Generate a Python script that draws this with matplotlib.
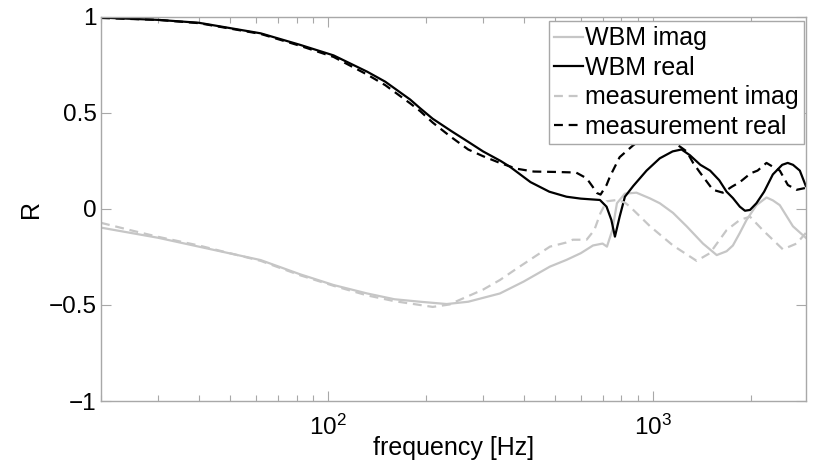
import matplotlib
matplotlib.use("Agg")
import matplotlib.pyplot as plt
from matplotlib.ticker import LogLocator, FixedLocator, NullFormatter

plt.rcParams['font.family'] = ['Liberation Sans', 'DejaVu Sans']
plt.rcParams['mathtext.fontset'] = 'custom'
plt.rcParams['mathtext.rm'] = 'Liberation Sans'
plt.rcParams['mathtext.it'] = 'Liberation Sans:italic'

# ---- data ----
wbm_real_f = [20, 30, 40, 62, 82, 104, 132, 150, 179, 192, 210, 240, 270, 300, 340, 363,
              420, 480, 542, 600, 687, 720, 745, 764, 790, 820, 870, 956, 1050, 1150,
              1225, 1300, 1400, 1500, 1600, 1686, 1763, 1852, 1920, 1990, 2083, 2200,
              2340, 2500, 2600, 2700, 2833, 2956]
wbm_real_v = [0.997, 0.985, 0.97, 0.915, 0.855, 0.80, 0.715, 0.663, 0.57, 0.525, 0.47,
              0.405, 0.35, 0.30, 0.25, 0.22, 0.14, 0.09, 0.064, 0.054, 0.047, 0.012,
              -0.057, -0.144, -0.04, 0.064, 0.12, 0.20, 0.264, 0.30, 0.31, 0.28, 0.23,
              0.20, 0.15, 0.09, 0.057, 0.012, -0.009, -0.005, 0.03, 0.09, 0.18, 0.23,
              0.24, 0.23, 0.20, 0.12]

meas_real_f = [20, 30, 40, 62, 82, 104, 132, 150, 179, 192, 210, 237, 270, 300, 338, 380,
               430, 500, 580, 625, 650, 673, 690, 720, 738, 790, 867, 950, 1020, 1100,
               1200, 1270, 1330, 1396, 1530, 1642, 1750, 1852, 2000, 2100, 2237, 2340,
               2458, 2603, 2769, 2956]
meas_real_v = [0.995, 0.985, 0.968, 0.912, 0.85, 0.792, 0.70, 0.645, 0.55, 0.51, 0.45,
               0.38, 0.31, 0.275, 0.24, 0.21, 0.195, 0.193, 0.19, 0.16, 0.12, 0.083,
               0.075, 0.125, 0.17, 0.27, 0.33, 0.38, 0.40, 0.37, 0.33, 0.30, 0.24, 0.19,
               0.10, 0.085, 0.116, 0.14, 0.186, 0.20, 0.24, 0.22, 0.20, 0.125, 0.10, 0.11]

wbm_imag_f = [20, 30, 40, 62, 82, 104, 132, 160, 192, 232, 270, 338, 400, 482, 542, 600,
              654, 700, 722, 750, 775, 820, 890, 980, 1050, 1153, 1270, 1426, 1572, 1686,
              1763, 1850, 1942, 2083, 2237, 2340, 2458, 2698, 2956]
wbm_imag_v = [-0.097, -0.15, -0.196, -0.266, -0.34, -0.396, -0.44, -0.47, -0.483, -0.495,
              -0.483, -0.44, -0.378, -0.30, -0.265, -0.23, -0.19, -0.18, -0.196, -0.11,
              0.03, 0.08, 0.085, 0.055, 0.03, -0.02, -0.09, -0.18, -0.24, -0.22, -0.19,
              -0.126, -0.057, 0.02, 0.06, 0.045, 0.02, -0.09, -0.15]

meas_imag_f = [20, 25, 30, 40, 62, 82, 104, 132, 160, 192, 210, 237, 249, 300, 338, 381,
               440, 482, 540, 567, 625, 660, 690, 720, 775, 820, 850, 980, 1153, 1363,
               1498, 1686, 1852, 1990, 2179, 2512, 2769, 2956]
meas_imag_v = [-0.072, -0.113, -0.145, -0.19, -0.27, -0.345, -0.40, -0.45, -0.48, -0.50,
               -0.51, -0.497, -0.48, -0.42, -0.37, -0.31, -0.24, -0.196, -0.175, -0.16,
               -0.16, -0.11, -0.02, 0.04, 0.047, 0.033, 0.012, -0.09, -0.19, -0.27, -0.23,
               -0.11, -0.057, -0.04, -0.11, -0.21, -0.18, -0.125]

y_ticks = [-1, -0.5, 0, 0.5, 1]
y_tick_labels = ['\u22121', '\u22120.5', '0', '0.5', '1']
legend_labels = ['WBM imag', 'WBM real', 'measurement imag', 'measurement real']

# ---- figure ----
fig = plt.figure(figsize=(8.13, 4.62), dpi=100)
ax = fig.add_axes([101 / 813, 1 - 401 / 462, 705 / 813, 384 / 462])

gray = '#c6c6c6'
lw = 1.6
dash = (0, (4, 2.6))
ax.plot(wbm_imag_f, wbm_imag_v, color=gray, lw=lw, label=legend_labels[0])
ax.plot(wbm_real_f, wbm_real_v, color='black', lw=lw, label=legend_labels[1])
ax.plot(meas_imag_f, meas_imag_v, color=gray, lw=lw, ls=dash, label=legend_labels[2])
ax.plot(meas_real_f, meas_real_v, color='black', lw=lw, ls=dash, label=legend_labels[3])

ax.set_xscale('log')
ax.set_xlim(20, 2960)
ax.set_ylim(-1, 1)
ax.yaxis.set_major_locator(FixedLocator(y_ticks))
ax.set_yticklabels(y_tick_labels)
ax.xaxis.set_major_locator(LogLocator(base=10, numticks=10))
ax.xaxis.set_minor_locator(LogLocator(base=10, subs=range(2, 10), numticks=20))
ax.xaxis.set_minor_formatter(NullFormatter())

spine_c = '#a8a8a8'
for s in ax.spines.values():
    s.set_color(spine_c)
    s.set_linewidth(1.0)
ax.tick_params(which='both', direction='in', top=True, right=True, color=spine_c,
               labelsize=17.5, labelcolor='black')
ax.tick_params(which='major', length=7, width=0.8)
ax.tick_params(axis='y', which='major', pad=3)
ax.tick_params(axis='x', which='major', pad=10)
ax.tick_params(which='minor', length=4, width=0.8)

ax.set_xlabel('frequency [Hz]', fontsize=18)
ax.xaxis.set_label_coords(0.5007, -0.092)
ax.set_ylabel('R', fontsize=18, va='center')
ax.yaxis.set_label_coords(-0.0993, 0.5)

leg = ax.legend(loc='upper right', bbox_to_anchor=(0.997, 0.99), borderaxespad=0.0,
                fontsize=18, frameon=True, fancybox=False, framealpha=1,
                handlelength=1.15, handletextpad=0.08, labelspacing=0.22,
                borderpad=0.22)
leg.get_frame().set_edgecolor(spine_c)
leg.get_frame().set_linewidth(1.0)

fig.savefig('out.png', dpi=100)
